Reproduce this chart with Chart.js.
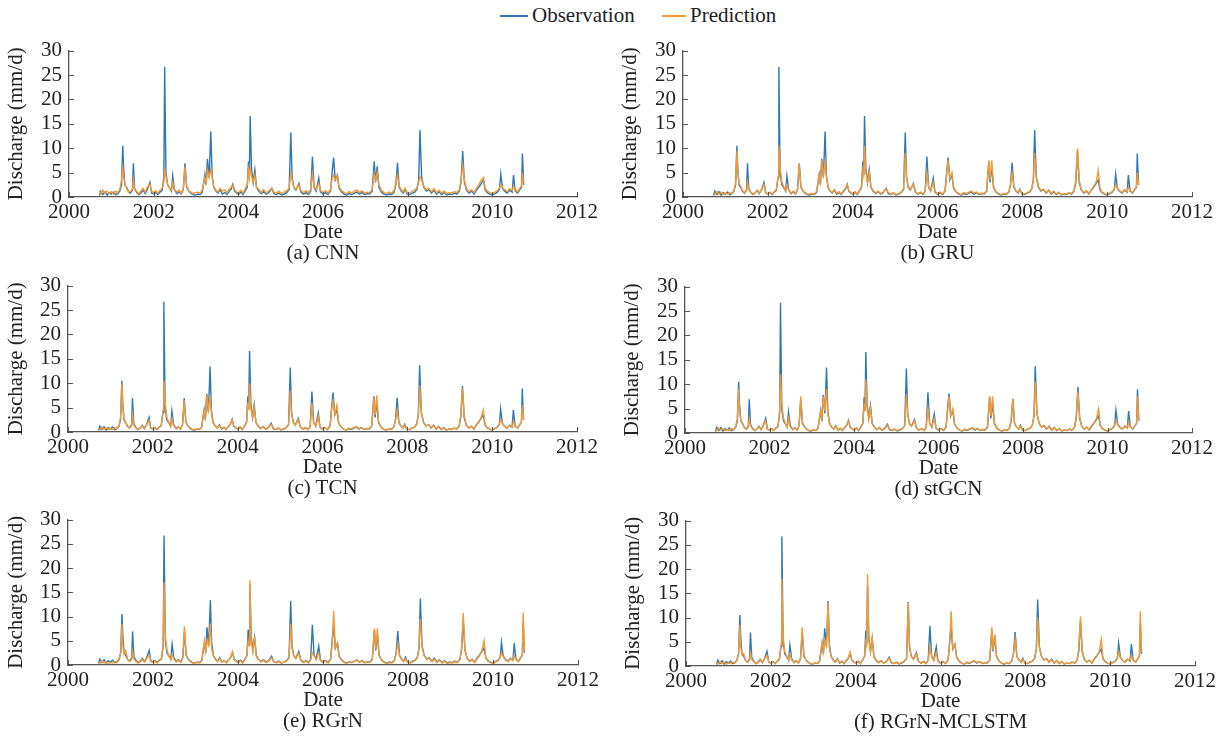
<!DOCTYPE html>
<html>
<head>
<meta charset="utf-8">
<script src="https://cdn.jsdelivr.net/npm/chart.js@4.4.1/dist/chart.umd.min.js"></script>
<style>
  body { margin: 0; background: #fff; width: 1232px; height: 740px; position: relative; overflow: hidden;
         font-family: 'Liberation Serif', 'Times New Roman', serif; color: #222; }
  canvas { position: absolute; }
  .cap { position: absolute; font-size: 21px; line-height: 24px; height: 24px; text-align: center; white-space: nowrap; }
  .legend { position: absolute; top: 2px; left: 0; width: 1232px; height: 26px; font-size: 21px; line-height: 26px; }
  .legend span.line { position: absolute; top: 13px; height: 1.5px; }
  .legend span.txt { position: absolute; top: 0; }
</style>
</head>
<body>
<div class="legend">
  <span class="line" style="left:500px;width:28px;background:#2e78b4"></span>
  <span class="txt" style="left:532px">Observation</span>
  <span class="line" style="left:662px;width:24px;background:#f39a35"></span>
  <span class="txt" style="left:690px">Prediction</span>
</div>
<script>
// time axis (decimal years) shared by all series
const dates = [
  2000.72, 2000.75, 2000.80, 2000.85, 2000.90, 2000.95,
  2001.00, 2001.05, 2001.10, 2001.15, 2001.20, 2001.24, 2001.27, 2001.29, 2001.32, 2001.36, 2001.40, 2001.45, 2001.50, 2001.52, 2001.55, 2001.60, 2001.65, 2001.70, 2001.75, 2001.80, 2001.85, 2001.91, 2001.95,
  2002.00, 2002.05, 2002.10, 2002.15, 2002.20, 2002.24, 2002.26, 2002.29, 2002.33, 2002.38, 2002.42, 2002.45, 2002.49, 2002.55, 2002.60, 2002.65, 2002.70, 2002.74, 2002.78, 2002.83, 2002.88, 2002.93, 2002.98,
  2003.05, 2003.10, 2003.15, 2003.21, 2003.24, 2003.27, 2003.31, 2003.35, 2003.38, 2003.42, 2003.47, 2003.52, 2003.57, 2003.62, 2003.68, 2003.73, 2003.78, 2003.83, 2003.87, 2003.91, 2003.96,
  2004.01, 2004.06, 2004.11, 2004.16, 2004.21, 2004.24, 2004.26, 2004.28, 2004.31, 2004.35, 2004.39, 2004.43, 2004.48, 2004.54, 2004.60, 2004.66, 2004.72, 2004.79, 2004.84, 2004.90, 2004.96,
  2005.02, 2005.08, 2005.14, 2005.20, 2005.24, 2005.27, 2005.31, 2005.36, 2005.43, 2005.48, 2005.54, 2005.60, 2005.66, 2005.71, 2005.75, 2005.79, 2005.84, 2005.90, 2005.94,
  2006.00, 2006.06, 2006.12, 2006.18, 2006.22, 2006.25, 2006.29, 2006.34, 2006.38, 2006.44, 2006.50, 2006.56, 2006.62, 2006.68, 2006.74, 2006.80, 2006.86, 2006.92, 2006.98,
  2007.04, 2007.10, 2007.16, 2007.21, 2007.24, 2007.28, 2007.32, 2007.38, 2007.44, 2007.50, 2007.56, 2007.62, 2007.68, 2007.72, 2007.76, 2007.80, 2007.85, 2007.90, 2007.94, 2007.99,
  2008.05, 2008.11, 2008.17, 2008.22, 2008.26, 2008.29, 2008.33, 2008.38, 2008.44, 2008.50, 2008.56, 2008.62, 2008.68, 2008.74, 2008.80, 2008.86, 2008.92, 2008.98,
  2009.04, 2009.10, 2009.16, 2009.22, 2009.26, 2009.30, 2009.34, 2009.39, 2009.45, 2009.51, 2009.57, 2009.63, 2009.68, 2009.74, 2009.79, 2009.83, 2009.88, 2009.94,
  2010.00, 2010.06, 2010.12, 2010.17, 2010.20, 2010.24, 2010.29, 2010.35, 2010.41, 2010.47, 2010.50, 2010.54, 2010.60, 2010.65, 2010.69, 2010.71, 2010.74
];

const observed = [
  0.3, 1.2, 0.5, 1.1, 0.4, 0.9,
  0.6, 1.0, 0.5, 0.7, 1.2, 2.5, 10.5, 6.0, 2.5, 2.0, 1.2, 0.8, 1.5, 6.9, 1.8, 0.9, 0.5, 0.8, 1.4, 0.7, 1.5, 3.0, 0.8,
  0.6, 0.9, 0.5, 1.0, 1.3, 4.0, 26.7, 5.0, 2.5, 1.8, 1.2, 4.3, 1.5, 0.7, 1.1, 0.6, 1.5, 6.9, 2.0, 1.2, 0.8, 0.5, 0.4,
  0.6, 0.5, 1.0, 4.6, 2.5, 7.8, 4.0, 13.4, 4.5, 2.0, 1.2, 0.8, 1.5, 0.6, 0.9, 0.5, 1.1, 1.6, 2.6, 1.2, 0.8,
  0.6, 1.0, 0.5, 1.2, 2.0, 7.3, 4.5, 16.6, 6.0, 3.0, 5.6, 2.0, 1.2, 0.7, 1.1, 0.6, 0.9, 1.8, 0.7, 0.5, 0.8,
  0.4, 0.6, 0.9, 1.5, 13.2, 4.0, 2.0, 1.4, 2.8, 1.0, 0.6, 0.9, 0.5, 1.2, 8.3, 2.0, 1.2, 3.9, 1.0,
  0.6, 0.9, 0.5, 1.3, 5.5, 8.1, 3.5, 4.5, 1.8, 1.0, 0.6, 0.4, 0.7, 0.5, 0.8, 1.0, 0.6, 0.9, 0.5,
  0.7, 0.6, 1.2, 7.3, 3.0, 6.3, 2.0, 1.0, 0.6, 0.4, 0.6, 0.5, 1.0, 2.5, 7.0, 2.0, 1.2, 0.8, 1.6, 0.6,
  0.5, 0.8, 1.0, 1.6, 3.5, 13.7, 4.0, 2.0, 1.2, 1.5, 0.8, 1.4, 0.6, 1.1, 0.5, 0.9, 0.4, 0.6,
  0.5, 0.8, 0.6, 1.2, 3.0, 9.4, 3.0, 1.4, 0.8, 1.2, 0.6, 1.5, 2.0, 2.8, 3.5, 1.5, 0.9, 0.6,
  0.4, 0.7, 1.0, 1.6, 4.7, 1.8, 1.2, 0.8, 1.4, 1.0, 4.5, 1.2, 0.8, 1.5, 2.0, 8.9, 2.5
];

const predCNN = [
  1.3, 0.6, 1.4, 0.8, 1.2, 0.7,
  1.1, 0.6, 1.2, 0.9, 1.5, 3.5, 6.0, 4.5, 2.5, 1.8, 1.0, 1.2, 1.6, 3.5, 1.5, 1.1, 0.7, 1.3, 1.8, 1.0, 2.0, 2.6, 1.2,
  0.9, 1.3, 0.8, 1.4, 1.8, 3.0, 5.5, 4.2, 2.5, 1.7, 1.4, 3.0, 1.5, 1.0, 1.4, 0.8, 1.8, 6.2, 2.2, 1.3, 1.0, 0.7, 0.9,
  1.0, 0.8, 1.5, 4.0, 3.0, 5.5, 4.0, 5.8, 4.0, 2.2, 1.4, 1.0, 1.8, 1.2, 1.5, 0.8, 1.6, 2.0, 2.4, 1.5, 1.0,
  0.9, 1.4, 0.8, 1.6, 2.5, 5.5, 4.0, 6.0, 4.5, 3.0, 4.5, 2.0, 1.6, 1.0, 1.5, 0.8, 1.3, 1.8, 1.0, 0.8, 1.2,
  0.7, 1.0, 1.3, 1.8, 5.0, 3.5, 2.0, 1.6, 2.4, 1.3, 0.9, 1.3, 0.8, 1.6, 4.8, 2.2, 1.5, 2.8, 1.3,
  0.9, 1.3, 0.8, 1.6, 4.0, 4.5, 3.5, 4.3, 2.0, 1.3, 0.9, 0.7, 1.1, 0.8, 1.2, 1.4, 0.9, 1.3, 0.8,
  1.0, 0.9, 1.5, 4.8, 3.5, 5.0, 2.5, 1.4, 0.9, 0.7, 1.0, 0.8, 1.4, 2.8, 4.5, 2.2, 1.5, 1.1, 1.8, 0.9,
  0.8, 1.2, 1.4, 1.9, 3.0, 4.2, 3.5, 2.2, 1.5, 1.8, 1.1, 1.7, 0.9, 1.4, 0.8, 1.2, 0.7, 0.9,
  0.8, 1.1, 0.9, 1.5, 3.5, 6.5, 3.5, 1.7, 1.1, 1.5, 0.9, 1.8, 2.5, 3.5, 4.0, 1.8, 1.2, 0.9,
  0.7, 1.0, 1.3, 1.8, 2.5, 2.0, 1.5, 1.1, 1.7, 1.3, 2.2, 1.5, 1.1, 1.8, 2.3, 5.0, 2.8
];

const predGRU = [
  0.9, 0.5, 1.1, 0.6, 1.0, 0.5,
  0.8, 0.6, 0.9, 0.7, 1.3, 3.0, 9.5, 5.5, 2.8, 2.2, 1.3, 0.9, 1.3, 3.0, 1.6, 0.9, 0.6, 0.9, 1.4, 0.8, 1.5, 2.5, 0.9,
  0.7, 1.0, 0.6, 1.1, 1.5, 4.0, 10.5, 6.0, 3.0, 2.0, 1.3, 2.5, 1.4, 0.8, 1.2, 0.7, 1.6, 6.8, 2.2, 1.3, 0.9, 0.6, 0.6,
  0.7, 0.6, 1.2, 4.5, 3.0, 7.5, 4.5, 7.0, 4.0, 2.2, 1.3, 0.9, 1.5, 0.8, 1.1, 0.6, 1.3, 1.8, 2.6, 1.3, 0.9,
  0.7, 1.1, 0.6, 1.3, 2.2, 5.5, 4.5, 10.5, 5.0, 3.0, 5.0, 2.0, 1.4, 0.8, 1.2, 0.7, 1.0, 1.7, 0.9, 0.6, 0.9,
  0.5, 0.7, 1.0, 1.6, 9.0, 4.0, 2.2, 1.5, 2.6, 1.1, 0.7, 1.0, 0.6, 1.3, 5.0, 2.2, 1.3, 3.0, 1.1,
  0.7, 1.0, 0.6, 1.4, 5.0, 7.5, 3.8, 5.0, 2.0, 1.1, 0.7, 0.5, 0.9, 0.7, 1.0, 1.2, 0.8, 1.0, 0.6,
  0.8, 0.7, 1.3, 7.5, 3.5, 7.5, 2.3, 1.1, 0.7, 0.5, 0.7, 0.6, 1.1, 2.5, 5.0, 2.2, 1.3, 0.9, 1.5, 0.7,
  0.6, 0.9, 1.1, 1.7, 3.5, 9.0, 4.0, 2.2, 1.3, 1.6, 0.9, 1.4, 0.7, 1.2, 0.6, 1.0, 0.5, 0.7,
  0.6, 0.9, 0.7, 1.3, 3.5, 10.0, 3.5, 1.5, 0.9, 1.3, 0.7, 1.5, 2.2, 3.0, 5.5, 1.8, 1.0, 0.7,
  0.5, 0.8, 1.1, 1.7, 2.5, 1.9, 1.3, 0.9, 1.5, 1.1, 2.0, 1.3, 0.9, 1.6, 2.1, 5.0, 2.6
];

const predTCN = [
  0.8, 0.4, 1.0, 0.6, 0.9, 0.5,
  0.7, 0.5, 0.9, 0.7, 1.2, 3.0, 10.0, 5.5, 2.8, 2.0, 1.2, 0.8, 1.2, 3.5, 1.5, 0.8, 0.5, 0.8, 1.3, 0.7, 1.4, 2.4, 0.8,
  0.6, 0.9, 0.5, 1.0, 1.4, 4.5, 10.5, 6.0, 3.0, 1.9, 1.2, 2.8, 1.3, 0.7, 1.1, 0.6, 1.5, 6.5, 2.0, 1.2, 0.8, 0.5, 0.5,
  0.6, 0.5, 1.1, 4.5, 3.0, 7.5, 4.5, 7.5, 4.0, 2.0, 1.2, 0.8, 1.4, 0.7, 1.0, 0.5, 1.2, 1.7, 2.5, 1.2, 0.8,
  0.6, 1.0, 0.5, 1.2, 2.0, 6.0, 4.5, 10.0, 5.0, 3.0, 5.2, 1.9, 1.3, 0.7, 1.1, 0.6, 0.9, 1.6, 0.8, 0.5, 0.8,
  0.5, 0.7, 0.9, 1.5, 8.5, 3.8, 2.0, 1.4, 2.5, 1.0, 0.6, 0.9, 0.5, 1.2, 6.0, 2.0, 1.2, 3.2, 1.0,
  0.6, 0.9, 0.5, 1.3, 5.0, 6.5, 3.5, 5.5, 1.9, 1.0, 0.6, 0.4, 0.8, 0.6, 0.9, 1.1, 0.7, 0.9, 0.5,
  0.7, 0.6, 1.2, 7.0, 3.5, 7.5, 2.2, 1.0, 0.6, 0.4, 0.6, 0.5, 1.0, 2.4, 4.5, 2.0, 1.2, 0.8, 1.4, 0.6,
  0.5, 0.8, 1.0, 1.6, 3.5, 9.5, 4.0, 2.0, 1.2, 1.5, 0.8, 1.3, 0.6, 1.1, 0.5, 0.9, 0.4, 0.6,
  0.5, 0.8, 0.6, 1.2, 3.5, 9.0, 3.4, 1.4, 0.8, 1.2, 0.6, 1.4, 2.0, 3.0, 4.5, 1.6, 0.9, 0.6,
  0.4, 0.7, 1.0, 1.6, 2.6, 1.8, 1.2, 0.8, 1.4, 1.0, 2.2, 1.2, 0.8, 1.5, 2.0, 5.5, 2.5
];

const predStGCN = [
  0.8, 0.5, 1.0, 0.6, 0.9, 0.5,
  0.7, 0.5, 0.9, 0.7, 1.3, 3.0, 9.0, 5.0, 2.6, 2.0, 1.2, 0.8, 1.3, 3.0, 1.5, 0.8, 0.5, 0.8, 1.3, 0.7, 1.4, 2.5, 0.8,
  0.6, 0.9, 0.5, 1.0, 1.4, 4.5, 12.0, 6.0, 3.0, 1.9, 1.2, 3.0, 1.3, 0.7, 1.1, 0.6, 1.6, 7.5, 2.2, 1.2, 0.8, 0.5, 0.5,
  0.6, 0.5, 1.1, 4.5, 3.0, 7.5, 4.5, 9.0, 4.0, 2.0, 1.2, 0.8, 1.4, 0.7, 1.0, 0.5, 1.2, 1.7, 2.5, 1.2, 0.8,
  0.6, 1.0, 0.5, 1.2, 2.0, 6.0, 4.5, 11.0, 5.0, 3.0, 5.2, 1.9, 1.3, 0.7, 1.1, 0.6, 0.9, 1.6, 0.8, 0.5, 0.8,
  0.5, 0.7, 0.9, 1.5, 8.0, 3.8, 2.0, 1.4, 2.5, 1.0, 0.6, 0.9, 0.5, 1.2, 5.0, 2.0, 1.2, 3.0, 1.0,
  0.6, 0.9, 0.5, 1.3, 5.0, 7.5, 3.5, 5.0, 1.9, 1.0, 0.6, 0.4, 0.8, 0.6, 0.9, 1.1, 0.7, 0.9, 0.5,
  0.7, 0.6, 1.2, 7.5, 3.5, 7.5, 2.2, 1.0, 0.6, 0.4, 0.6, 0.5, 1.0, 2.8, 7.0, 2.0, 1.2, 0.8, 1.4, 0.6,
  0.5, 0.8, 1.0, 1.6, 3.5, 10.5, 4.0, 2.0, 1.2, 1.5, 0.8, 1.3, 0.6, 1.1, 0.5, 0.9, 0.4, 0.6,
  0.5, 0.8, 0.6, 1.2, 3.5, 8.5, 3.4, 1.4, 0.8, 1.2, 0.6, 1.4, 2.0, 3.0, 5.0, 1.6, 0.9, 0.6,
  0.4, 0.7, 1.0, 1.6, 2.6, 1.8, 1.2, 0.8, 1.4, 1.0, 2.2, 1.2, 0.8, 1.5, 2.0, 7.5, 2.5
];

const predRGrN = [
  0.6, 0.3, 0.8, 0.4, 0.7, 0.3,
  0.5, 0.4, 0.7, 0.5, 1.0, 2.5, 8.5, 4.0, 2.2, 3.0, 1.2, 0.7, 1.1, 2.8, 1.3, 0.7, 0.4, 0.7, 1.2, 0.6, 1.3, 2.0, 0.7,
  0.5, 0.8, 0.4, 0.9, 1.2, 4.5, 17.0, 6.0, 3.0, 1.8, 1.1, 2.2, 1.2, 0.6, 1.0, 0.5, 1.5, 8.0, 2.2, 1.1, 0.7, 0.4, 0.4,
  0.5, 0.4, 1.0, 5.0, 2.8, 5.0, 4.0, 8.5, 3.5, 1.9, 1.1, 0.7, 1.3, 0.6, 0.9, 0.4, 1.1, 1.6, 2.8, 1.1, 0.7,
  0.5, 0.9, 0.4, 1.1, 1.9, 5.0, 4.0, 17.5, 5.0, 2.8, 6.0, 1.8, 1.2, 0.6, 1.0, 0.5, 0.8, 1.5, 0.7, 0.4, 0.7,
  0.4, 0.6, 0.8, 1.4, 8.5, 3.5, 1.9, 1.3, 2.4, 0.9, 0.5, 0.8, 0.4, 1.1, 2.5, 1.9, 1.1, 2.5, 0.9,
  0.5, 0.8, 0.4, 1.2, 5.0, 11.2, 3.5, 4.5, 1.8, 0.9, 0.5, 0.3, 0.7, 0.5, 0.8, 1.0, 0.6, 0.8, 0.4,
  0.6, 0.5, 1.1, 7.5, 3.3, 7.5, 2.0, 0.9, 0.5, 0.3, 0.5, 0.4, 0.9, 2.3, 4.5, 1.9, 1.1, 0.7, 1.3, 0.5,
  0.4, 0.7, 0.9, 1.5, 3.5, 9.5, 3.8, 1.9, 1.1, 1.4, 0.7, 1.2, 0.5, 1.0, 0.4, 0.8, 0.3, 0.5,
  0.4, 0.7, 0.5, 1.1, 3.5, 10.7, 3.2, 1.3, 0.7, 1.1, 0.5, 1.3, 1.9, 3.0, 5.0, 1.5, 0.8, 0.5,
  0.3, 0.6, 0.9, 1.5, 2.5, 1.7, 1.1, 0.7, 1.3, 0.9, 2.0, 1.1, 0.7, 1.4, 2.0, 10.8, 2.8
];

const predMCLSTM = [
  0.7, 0.4, 0.9, 0.5, 0.8, 0.4,
  0.6, 0.5, 0.8, 0.6, 1.1, 2.6, 8.5, 4.0, 2.3, 2.6, 1.2, 0.8, 1.2, 2.8, 1.4, 0.8, 0.5, 0.8, 1.3, 0.7, 1.4, 2.2, 0.8,
  0.6, 0.9, 0.5, 1.0, 1.3, 4.5, 18.0, 6.0, 3.0, 1.9, 1.2, 2.5, 1.3, 0.7, 1.1, 0.6, 1.6, 8.0, 2.2, 1.2, 0.8, 0.5, 0.5,
  0.6, 0.5, 1.1, 5.0, 3.0, 5.5, 4.2, 13.0, 3.8, 2.0, 1.2, 0.8, 1.4, 0.7, 1.0, 0.5, 1.2, 1.7, 2.9, 1.2, 0.8,
  0.6, 1.0, 0.5, 1.2, 2.0, 5.0, 4.2, 19.0, 5.2, 3.0, 5.8, 1.9, 1.3, 0.7, 1.1, 0.6, 0.9, 1.6, 0.8, 0.5, 0.8,
  0.5, 0.7, 0.9, 1.5, 13.0, 3.8, 2.0, 1.4, 2.5, 1.0, 0.6, 0.9, 0.5, 1.2, 4.0, 2.0, 1.2, 2.8, 1.0,
  0.6, 0.9, 0.5, 1.3, 5.0, 11.3, 3.6, 4.5, 1.9, 1.0, 0.6, 0.4, 0.8, 0.6, 0.9, 1.1, 0.7, 0.9, 0.5,
  0.7, 0.6, 1.2, 8.0, 3.3, 6.5, 2.1, 1.0, 0.6, 0.4, 0.6, 0.5, 1.0, 2.5, 5.5, 2.0, 1.2, 0.8, 1.4, 0.6,
  0.5, 0.8, 1.0, 1.6, 3.5, 10.0, 3.9, 2.0, 1.2, 1.5, 0.8, 1.3, 0.6, 1.1, 0.5, 0.9, 0.4, 0.6,
  0.5, 0.8, 0.6, 1.2, 3.5, 10.2, 3.3, 1.4, 0.8, 1.2, 0.6, 1.4, 2.0, 3.0, 5.5, 1.6, 0.9, 0.6,
  0.4, 0.7, 1.0, 1.6, 3.0, 1.8, 1.2, 0.8, 1.4, 1.0, 2.2, 1.2, 0.8, 1.5, 2.0, 11.3, 2.8
];

const captions = ['(a) CNN', '(b) GRU', '(c) TCN', '(d) stGCN', '(e) RGrN', '(f) RGrN-MCLSTM'];
const predictions = [predCNN, predGRU, predTCN, predStGCN, predRGrN, predMCLSTM];
const yTicks = [0, 5, 10, 15, 20, 25, 30];
const xTicks = [2000, 2002, 2004, 2006, 2008, 2010, 2012];

// panel placement: canvas left, axis x, axis right end, plot top, plot bottom
const panels = [
  { cl: 0,   ax: 69,  ar: 577,  top: 45,  bot: 197 },
  { cl: 614, ax: 683, ar: 1192, top: 45,  bot: 197 },
  { cl: 0,   ax: 68,  ar: 577,  top: 280, bot: 432 },
  { cl: 616, ax: 685, ar: 1192, top: 281, bot: 433 },
  { cl: 0,   ax: 68,  ar: 578,  top: 514, bot: 665 },
  { cl: 617, ax: 686, ar: 1195, top: 515, bot: 666 }
];

const FONT = "'Liberation Serif', 'Times New Roman', serif";
const TEXT = '#222';
const AXIS = '#555';
const PAD_TOP = 14, PAD_RIGHT = 33, XAXIS_H = 48;

// small inward ticks like the original figure
const innerTicks = {
  id: 'innerTicks',
  afterDraw(chart) {
    const { ctx, scales: { x, y } } = chart;
    ctx.save();
    ctx.strokeStyle = AXIS;
    ctx.lineWidth = 1;
    ctx.beginPath();
    yTicks.forEach(v => {
      const py = Math.round(y.getPixelForValue(v)) + 0.5;
      ctx.moveTo(x.left, py);
      ctx.lineTo(x.left + 5, py);
    });
    xTicks.forEach(v => {
      const px = Math.round(x.getPixelForValue(v)) + 0.5;
      ctx.moveTo(px, y.bottom);
      ctx.lineTo(px, y.bottom - 5);
    });
    ctx.stroke();
    ctx.restore();
  }
};

function toPoints(vals) {
  return dates.map((d, i) => ({ x: d, y: vals[i] }));
}

panels.forEach((p, i) => {
  const canvas = document.createElement('canvas');
  const w = p.ar + PAD_RIGHT - p.cl;
  const h = (p.bot + XAXIS_H) - (p.top - PAD_TOP);
  canvas.width = w;
  canvas.height = h;
  canvas.style.left = p.cl + 'px';
  canvas.style.top = (p.top - PAD_TOP) + 'px';
  canvas.style.width = w + 'px';
  canvas.style.height = h + 'px';
  document.body.appendChild(canvas);

  const cap = document.createElement('div');
  cap.className = 'cap';
  cap.textContent = captions[i];
  cap.style.left = (p.ax - 100) + 'px';
  cap.style.width = (p.ar - p.ax + 200) + 'px';
  cap.style.top = (p.bot + 43) + 'px';
  document.body.appendChild(cap);

  new Chart(canvas.getContext('2d'), {
    type: 'line',
    data: {
      datasets: [
        { label: 'Observation', data: toPoints(observed), borderColor: '#2e78b4', borderWidth: 1.4, order: 1 },
        { label: 'Prediction', data: toPoints(predictions[i]), borderColor: '#f39a35', borderWidth: 1.4, order: 0 }
      ]
    },
    options: {
      responsive: false,
      animation: false,
      devicePixelRatio: 1,
      layout: { padding: { top: PAD_TOP, right: PAD_RIGHT, left: 0, bottom: 0 } },
      elements: { point: { radius: 0 }, line: { tension: 0 } },
      plugins: { legend: { display: false }, tooltip: { enabled: false } },
      scales: {
        x: {
          type: 'linear',
          min: 2000, max: 2012,
          afterBuildTicks: s => { s.ticks = xTicks.map(v => ({ value: v })); },
          afterFit: s => { s.height = XAXIS_H; },
          grid: { display: false, drawTicks: false },
          border: { display: true, color: AXIS, width: 1.3 },
          ticks: { autoSkip: false, color: TEXT, font: { family: FONT, size: 21 }, padding: 3, maxRotation: 0, callback: v => String(v) },
          title: { display: true, text: 'Date', color: TEXT, font: { family: FONT, size: 21 }, padding: 0 }
        },
        y: {
          min: 0, max: 30,
          afterBuildTicks: s => { s.ticks = yTicks.map(v => ({ value: v })); },
          afterFit: s => { s.width = p.ax - p.cl; },
          grid: { display: false, drawTicks: false },
          border: { display: true, color: AXIS, width: 1.3 },
          ticks: { autoSkip: false, color: TEXT, font: { family: FONT, size: 21 }, padding: 7, callback: v => String(v) },
          title: { display: true, text: 'Discharge (mm/d)', color: TEXT, font: { family: FONT, size: 21 }, padding: { top: 4, bottom: 0 } }
        }
      }
    },
    plugins: [innerTicks]
  });
});
</script>
</body>
</html>
